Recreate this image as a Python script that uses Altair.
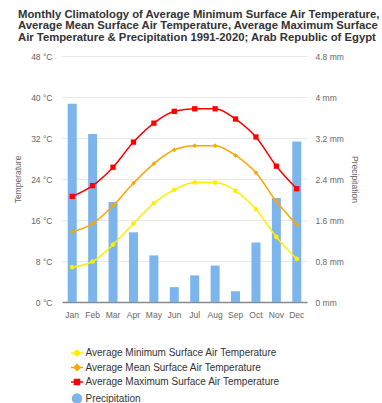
import altair as alt
import pandas as pd

months = ["Jan", "Feb", "Mar", "Apr", "May", "Jun", "Jul", "Aug", "Sep", "Oct", "Nov", "Dec"]
tmin = [6.8, 7.9, 11.2, 15.3, 19.3, 21.9, 23.3, 23.3, 21.7, 18.1, 12.7, 8.4]
tmean = [13.7, 15.3, 18.8, 23.2, 27.0, 29.7, 30.5, 30.5, 28.6, 25.2, 19.6, 15.1]
tmax = [20.6, 22.7, 26.3, 31.2, 34.9, 37.2, 37.7, 37.7, 35.7, 32.2, 26.5, 22.1]
precip = [3.87, 3.28, 1.95, 1.36, 0.91, 0.29, 0.52, 0.71, 0.21, 1.16, 2.03, 3.13]

series = [
    "Average Minimum Surface Air Temperature",
    "Average Mean Surface Air Temperature",
    "Average Maximum Surface Air Temperature",
    "Precipitation",
]
colors = ["#ffee00", "#ffa500", "#ff0000", "#7cb5ec"]
temp_ticks = [0, 8, 16, 24, 32, 40, 48]
precip_ticks = [0, 0.8, 1.6, 2.4, 3.2, 4, 4.8]
title_lines = [
    "Monthly Climatology of Average Minimum Surface Air Temperature,",
    "Average Mean Surface Air Temperature, Average Maximum Surface",
    "Air Temperature & Precipitation 1991-2020; Arab Republic of Egypt",
]

rows = []
for name, vals in zip(series[:3], [tmin, tmean, tmax]):
    for m, v in zip(months, vals):
        rows.append({"month": m, "series": name, "value": v})
tdf = pd.DataFrame(rows)
pdf = pd.DataFrame({"month": months, "precip": precip})

FONT = "Liberation Sans"
LAB = "#666666"

xenc = alt.X(
    "month:N",
    sort=months,
    scale=alt.Scale(paddingInner=0, paddingOuter=0),
    axis=alt.Axis(
        title=None, labelAngle=0, ticks=False, domainColor="#8a8a8a", domainWidth=1.5,
        labelColor=LAB, labelFontSize=8.5, labelFont=FONT, labelPadding=8, grid=False,
    ),
)

bars = alt.Chart(pdf).mark_bar(size=9, color=colors[3]).encode(
    x=xenc,
    y=alt.Y(
        "precip:Q",
        scale=alt.Scale(domain=[0, 4.8], nice=False, zero=True),
        axis=alt.Axis(
            orient="right", values=precip_ticks, grid=False, domain=False, ticks=False,
            labelExpr="format(datum.value, '~g') + ' mm'", labelColor=LAB, labelFontSize=8.5,
            labelFont=FONT, labelPadding=8, title="Precipitation", titleColor=LAB,
            titleFontWeight="normal", titleFontSize=8.5, titleFont=FONT, titlePadding=6,
        ),
    ),
)

yenc = alt.Y(
    "value:Q",
    scale=alt.Scale(domain=[0, 48], nice=False, zero=True),
    axis=alt.Axis(
        orient="left", values=temp_ticks, grid=True, gridColor="#e8e8e8", domain=False, ticks=False,
        labelExpr="datum.value + ' °C'", labelColor=LAB, labelFontSize=8.5, labelFont=FONT,
        labelPadding=10, title="Temperature", titleColor=LAB, titleFontWeight="normal",
        titleFontSize=8.5, titleFont=FONT, titlePadding=8,
    ),
)

shapes = ["circle", "diamond", "square"]
sizes = [22, 22, 28]
layers = []
for name, col, shp, sz in zip(series[:3], colors[:3], shapes, sizes):
    base = alt.Chart(tdf).transform_filter(alt.datum.series == name)
    layers.append(
        base.mark_line(interpolate="monotone", strokeWidth=1.5, color=col).encode(x=xenc, y=yenc)
    )
    layers.append(
        base.mark_point(shape=shp, filled=True, size=sz, opacity=1, color=col).encode(x=xenc, y=yenc)
    )

circ = "M-{r},0A{r},{r},0,1,0,{r},0A{r},{r},0,1,0,-{r},0Z"
legend_paths = [
    "M-1.15,0H1.15" + circ.format(r=0.46),
    "M-1.15,0H1.15M0,-0.56L0.56,0L0,0.56L-0.56,0Z",
    "M-1.15,0H1.15M-0.48,-0.48H0.48V0.48H-0.48Z",
    circ.format(r=0.86),
]

leg = alt.Legend(
    title=None, orient="none", legendX=9, legendY=291, labelFont=FONT, labelFontSize=10,
    labelColor="#333333", symbolSize=110, symbolStrokeWidth=1.5, rowPadding=2.5, labelOffset=2.5,
    labelLimit=400,
)

legend_layer = alt.Chart(tdf).transform_filter("false").mark_point(filled=True, opacity=1).encode(
    color=alt.Color("series:N", scale=alt.Scale(domain=series, range=colors), legend=leg),
    stroke=alt.Stroke("series:N", scale=alt.Scale(domain=series, range=colors), legend=leg),
    shape=alt.Shape("series:N", scale=alt.Scale(domain=series, range=legend_paths), legend=leg),
)

temps = alt.layer(*layers, legend_layer)

chart = (
    alt.layer(bars, temps)
    .resolve_scale(y="independent")
    .properties(
        width=245,
        height=246,
        autosize=alt.AutoSizeParams(type="none"),
        padding={"left": 62, "top": 56, "right": 75, "bottom": 101},
        title=alt.Title(
            text=title_lines, anchor="start", frame="group", font=FONT, fontSize=11.3,
            fontWeight="bold", color="#333333", dx=-44, lineHeight=11.5, offset=9,
        ),
    )
    .configure_view(stroke=None)
)

chart.save("out.html", embed_options={"renderer": "svg", "actions": False})
